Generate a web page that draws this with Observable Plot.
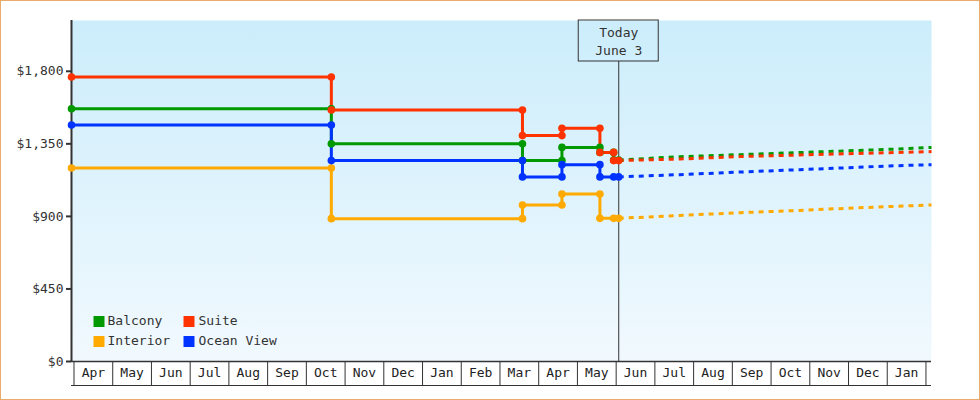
<!DOCTYPE html>
<html><head><meta charset="utf-8">
<script src="https://cdn.jsdelivr.net/npm/d3@7"></script>
<script src="https://cdn.jsdelivr.net/npm/@observablehq/plot@0.6"></script>
<style>
html,body{margin:0;padding:0;background:#fff;}
#chart svg{display:block;outline:1px solid #e9aa6b;outline-offset:-1px;}
</style></head><body><div id="chart"></div>
<script>
// ---- data ----
const changeDates = ["2012-03-30","2012-10-21","2013-03-19","2013-04-19","2013-05-19","2013-05-30","2013-06-03"];
const balcony   = [1567,1350,1246,1328,1297,1250,1250];
const suite     = [1765,1560,1401,1446,1297,1246,1246];
const interior  = [1200, 886, 971,1039, 888, 888, 888];
const oceanView = [1467,1246,1145,1221,1145,1145,1145];

const forecastDates = ["2013-06-03","2013-07-21","2013-09-07","2013-10-24","2013-12-01","2014-01-03","2014-02-05"];
const balconyForecast   = [1250,1270,1283,1296,1307,1316,1328];
const suiteForecast     = [1246,1256,1271,1281,1289,1295,1302];
const interiorForecast  = [888,906,923,937,951,961,971];
const oceanViewForecast = [1145,1159,1175,1190,1202,1213,1221];

const seriesNames  = ["Balcony","Interior","Ocean View","Suite"];
const seriesColors = ["#009900","#ffaa00","#0033ff","#ff3300"];
const legendOrder  = ["Balcony","Suite","Interior","Ocean View"];
const monthLabels  = ["Apr","May","Jun","Jul","Aug","Sep","Oct","Nov","Dec","Jan","Feb","Mar","Apr","May","Jun","Jul","Aug","Sep","Oct","Nov","Dec","Jan"];
const yTicks = [0,450,900,1350,1800];
const yMax = 2115;
const todayDate = "2013-06-03";
const todayLabel = "Today\nJune 3";

// ---- helpers ----
function mIdx(s){const [y,m,d]=s.split("-").map(Number);const dim=new Date(y,m,0).getDate();return (y-2012)*12+(m-4)+(d-1)/dim;}
function stepVertices(dates, values){
  const pts=[];
  dates.forEach((d,i)=>{const x=mIdx(d); if(i>0 && values[i]!==values[i-1]) pts.push({x,y:values[i-1]}); pts.push({x,y:values[i]});});
  return pts;
}
const histVals = {"Balcony":balcony,"Interior":interior,"Ocean View":oceanView,"Suite":suite};
const foreVals = {"Balcony":balconyForecast,"Interior":interiorForecast,"Ocean View":oceanViewForecast,"Suite":suiteForecast};
const colorOf = n => seriesColors[seriesNames.indexOf(n)];
const monthBounds = d3.range(monthLabels.length+1);
const monthMids = d3.range(monthLabels.length).map(i=>i+0.5);
const xDomain = [mIdx(changeDates[0]), mIdx(forecastDates[forecastDates.length-1])];

const lineMarks=[], dashMarks=[], dotMarks=[];
for(const n of seriesNames){
  const v = stepVertices(changeDates, histVals[n]);
  lineMarks.push(Plot.line(v,{x:"x",y:"y",stroke:colorOf(n),strokeWidth:3,strokeLinejoin:"miter",strokeLinecap:"butt"}));
  const f = forecastDates.map((d,i)=>({x:mIdx(d),y:foreVals[n][i]}));
  dashMarks.push(Plot.line(f,{x:"x",y:"y",stroke:colorOf(n),strokeWidth:3,strokeDasharray:"5,5",strokeLinecap:"butt"}));
  dotMarks.push(Plot.dot(v,{x:"x",y:"y",fill:colorOf(n),r:3.8}));
}
const legendMarks=[];
legendOrder.forEach((n,i)=>{
  const col=i%2,row=Math.floor(i/2);
  legendMarks.push(Plot.dot([n],{frameAnchor:"bottom-left",dx:27.5+col*90,dy:-40+row*20,symbol:"square",r:6.2,fill:colorOf(n)}));
  legendMarks.push(Plot.text([n],{frameAnchor:"bottom-left",text:d=>d,textAnchor:"start",dx:36+col*91,dy:-37+row*20,fill:"#333"}));
});

const chart = Plot.plot({
  width:980,height:400,
  marginLeft:71,marginRight:49,marginTop:20,marginBottom:39,
  style:{fontFamily:"DejaVu Sans Mono",fontSize:"13px",background:"#fff",color:"#333"},
  x:{domain:xDomain,axis:null},
  y:{domain:[0,yMax],axis:null},
  marks:[
    Plot.frame({fill:"url(#bgGrad)",stroke:null}),
    Plot.axisY({ticks:yTicks,tickFormat:d=>"$"+d3.format(",")(d),tickSize:5,tickPadding:3,strokeWidth:2,color:"#333",label:null}),
    Plot.axisX({ticks:monthBounds,tickSize:24,tickFormat:()=>"",color:"#333",label:null}),
    Plot.axisX({ticks:monthMids,tickSize:0,tickPadding:6,tickFormat:d=>monthLabels[Math.floor(d)],color:"#222",label:null}),
    Plot.ruleY([0],{dy:24,stroke:"#333"}),
    Plot.ruleY([0],{stroke:"#333",strokeWidth:1.5}),
    Plot.ruleX([xDomain[0]],{stroke:"#333",strokeWidth:2}),
    Plot.ruleX([todayDate],{x:d=>mIdx(d),insetTop:41,stroke:"#333"}),
    Plot.rect([todayDate],{x1:d=>mIdx(d),x2:d=>mIdx(d),y1:()=>yMax,y2:()=>yMax,insetLeft:-40,insetRight:-40,insetBottom:-41,fill:"none",stroke:"#333"}),
    Plot.text([todayLabel],{x:()=>mIdx(todayDate),frameAnchor:"top",lineAnchor:"top",dy:4,lineHeight:1.385,text:d=>d,fill:"#333"}),
    ...lineMarks,
    ...dashMarks,
    ...dotMarks,
    ...legendMarks
  ]
});
chart.insertAdjacentHTML("afterbegin",'<defs><linearGradient id="bgGrad" x1="0" y1="0" x2="0" y2="1"><stop offset="0" stop-color="#ccedfb"/><stop offset="1" stop-color="#f1f9fe"/></linearGradient></defs>');
document.getElementById("chart").appendChild(chart);
</script></body></html>
